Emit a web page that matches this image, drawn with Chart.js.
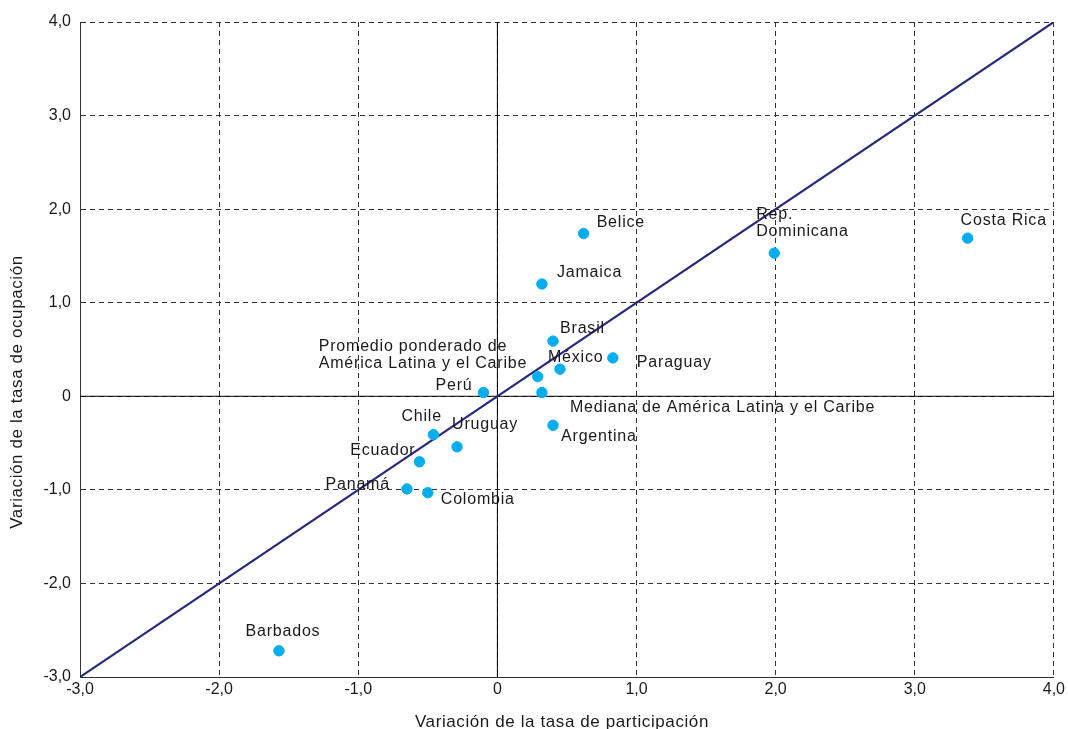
<!DOCTYPE html>
<html>
<head>
<meta charset="utf-8">
<script src="https://cdn.jsdelivr.net/npm/chart.js@4.4.1/dist/chart.umd.min.js"></script>
<style>
  html, body { margin: 0; padding: 0; background: #fff; overflow: hidden; }
  #wrap { position: relative; width: 1068px; height: 740px; }
</style>
</head>
<body>
<div id="wrap"><canvas id="chart"></canvas></div>
<script>
// Countries and their values (x: participation change, y: occupation change)
const countries = ["Belice", "Jamaica", "Rep.\nDominicana", "Costa Rica", "Brasil", "Paraguay", "México",
  "Promedio ponderado de\nAmérica Latina y el Caribe", "Mediana de América Latina y el Caribe", "Perú",
  "Chile", "Uruguay", "Argentina", "Ecuador", "Panamá", "Colombia", "Barbados"]
const participation = [0.62, 0.32, 1.99, 3.38, 0.40, 0.83, 0.45, 0.29, 0.32, -0.10, -0.46, -0.29, 0.40, -0.56, -0.65, -0.50, -1.57]
const occupation = [1.74, 1.20, 1.53, 1.69, 0.59, 0.41, 0.29, 0.21, 0.04, 0.04, -0.41, -0.54, -0.31, -0.70, -0.99, -1.03, -2.72]

// Axis range / ticks
const axisMin = -3
const axisMax = 4
const xTitle = "Variación de la tasa de participación"
const yTitle = "Variación de la tasa de ocupación"

// Label placement (pixel offsets from each point, and text alignment)
const labelDx = [13, 15, -18, -7, 7, 24, -12, -219, 28, -11, -32, -5, 8, -4, -17, 13, 4]
const labelDy = [-11, -11, -39, -18, -12, 5, -12, -30, 15, -7, -18, -22, 11, -11, -4, 7, -19]
const labelAlign = ["left", "left", "left", "left", "left", "left", "left", "left", "left", "right",
  "left", "left", "left", "right", "right", "left", "center"]

const FONT = "'Liberation Sans', Arial, sans-serif"

function fmt(v) {
  return v === 0 ? "0" : v.toFixed(1).replace(".", ",")
}

const pointLabels = {
  id: "pointLabels",
  afterDatasetsDraw(chart) {
    const meta = chart.getDatasetMeta(0)
    const ctx = chart.ctx
    ctx.save()
    ctx.font = "16px " + FONT
    ctx.letterSpacing = "0.8px"
    ctx.fillStyle = "#1a1a1a"
    ctx.textBaseline = "middle"
    meta.data.forEach((pt, i) => {
      const lines = countries[i].split("\n")
      ctx.textAlign = labelAlign[i]
      lines.forEach((line, j) => {
        ctx.fillText(line, pt.x + labelDx[i], pt.y + labelDy[i] + j * 17)
      })
    })
    ctx.restore()
  }
}

// axis titles, drawn by hand so they can sit where the original has them
const axisTitles = {
  id: "axisTitles",
  afterDraw(chart) {
    const ctx = chart.ctx
    const area = chart.chartArea
    ctx.save()
    ctx.font = "17px " + FONT
    ctx.letterSpacing = "0.6px"
    ctx.fillStyle = "#1a1a1a"
    ctx.textAlign = "center"
    ctx.textBaseline = "middle"
    ctx.fillText(xTitle, (area.left + area.right) / 2 - 5, 722)
    ctx.translate(17, 392)
    ctx.rotate(-Math.PI / 2)
    ctx.fillText(yTitle, 0, 0)
    ctx.restore()
  }
}

const points = participation.map((x, i) => ({ x: x, y: occupation[i] }))

const tickFont = { family: FONT, size: 16 }

new Chart(document.getElementById("chart"), {
  type: "scatter",
  data: {
    datasets: [
      {
        data: points,
        backgroundColor: "#00aeef",
        borderColor: "#00aeef",
        pointRadius: 5.2,
        pointHoverRadius: 5.2,
        order: 0
      },
      {
        type: "line",
        data: [{ x: axisMin, y: axisMin }, { x: axisMax, y: axisMax }],
        borderColor: "#29287a",
        borderWidth: 2.2,
        pointRadius: 0,
        order: 1
      },
      {
        type: "line",
        data: [{ x: 0, y: axisMin }, { x: 0, y: axisMax }],
        borderColor: "#000",
        borderWidth: 1,
        pointRadius: 0,
        order: 2
      },
      {
        type: "line",
        data: [{ x: axisMin, y: 0 }, { x: axisMax, y: 0 }],
        borderColor: "#000",
        borderWidth: 1,
        pointRadius: 0,
        order: 2
      }
    ]
  },
  options: {
    responsive: true,
    maintainAspectRatio: false,
    animation: false,
    layout: { padding: { top: 22, right: 12, left: 0, bottom: 0 } },
    plugins: { legend: { display: false }, tooltip: { enabled: false } },
    scales: {
      x: {
        type: "linear",
        min: axisMin,
        max: axisMax,
        afterFit(scale) { scale.height = 63 },
        ticks: { stepSize: 1, color: "#1a1a1a", font: tickFont, padding: 3, callback: v => fmt(v) },
        grid: { color: "#333", lineWidth: 1, drawTicks: false },
        border: { display: true, color: "#333", dash: [5, 4] }
      },
      y: {
        type: "linear",
        min: axisMin,
        max: axisMax,
        afterFit(scale) { scale.width = 80 },
        ticks: { stepSize: 1, color: "#1a1a1a", font: tickFont, padding: 9, callback: v => fmt(v) },
        grid: { color: "#333", lineWidth: 1, drawTicks: false },
        border: { display: true, color: "#333", dash: [5, 4] }
      }
    }
  },
  plugins: [pointLabels, axisTitles]
})
</script>
</body>
</html>
